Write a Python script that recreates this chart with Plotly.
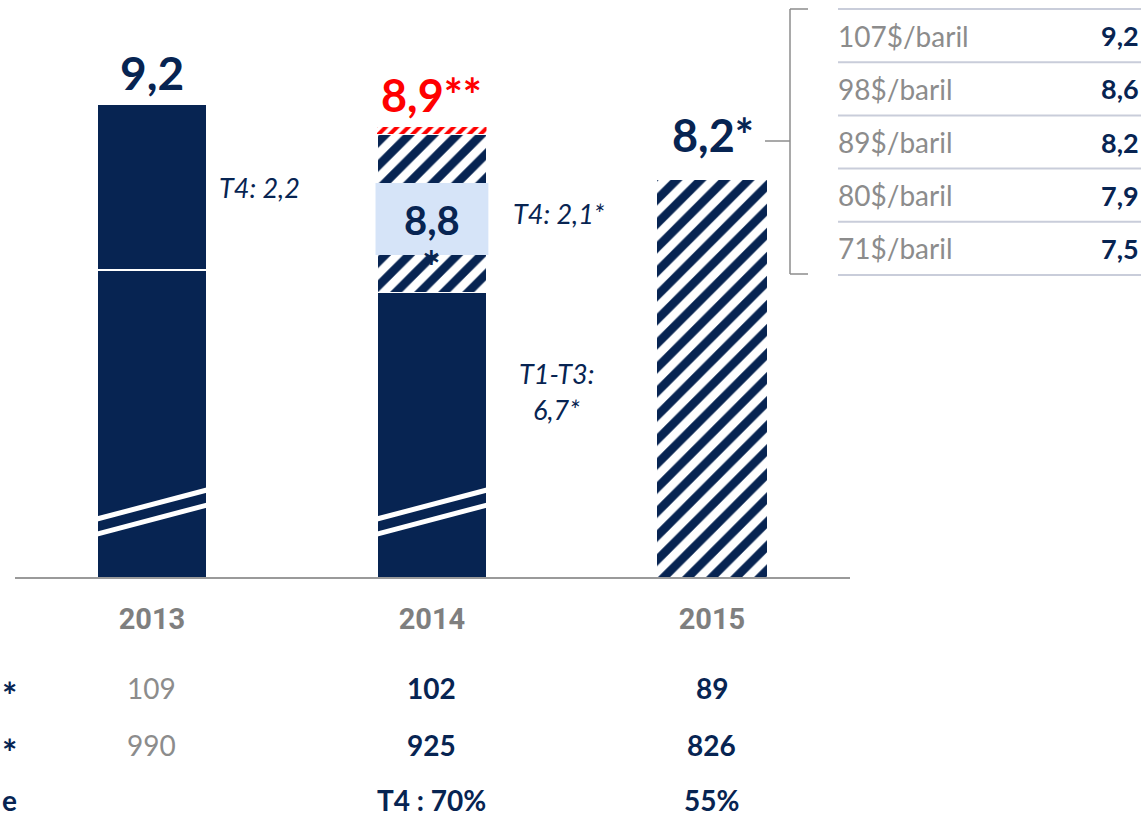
import plotly.graph_objects as go

# ---- données ----
years = ["2013", "2014", "2015"]
t1_t3 = [7.0, 6.7, None]        # T1-T3 réalisé
t4_real = [2.2, None, None]     # T4 2013 réalisé
t4_est = [None, 2.1, None]      # T4 2014 estimé
revision = [None, 0.1, None]    # révision 8,8 -> 8,9
forecast = [None, None, 8.2]    # 2015 estimé

brent = ["109", "102", "89"]
gazole = ["990", "925", "826"]
couverture = ["", "T4 : 70%", "55%"]
row_tails = ["*", "*", "e"]

scen_labels = ["107$/baril", "98$/baril", "89$/baril", "80$/baril", "71$/baril"]
scen_values = [9.2, 8.6, 8.2, 7.9, 7.5]

NAVY = "#072452"
RED = "#FF0000"
GREY = "#8C8C8C"
LIGHT = "#D6E4F8"
FONT = "Lato"


def fr(v):
    return f"{v:.1f}".replace(".", ",")


# ---- géométrie ----
L, R, T, B = 15, 294, 0, 242
W, H = 1144, 819
PW, PH = W - L - R, H - T - B
Y0, PX_PER_UNIT = 2.93, 75.4         # axe coupé : la base démarre à 2,93
Y1 = Y0 + PH / PX_PER_UNIT
BW = 0.393


def px_x(X):
    return (X - L) / PW


def px_y(Y):
    return (H - B - Y) / PH


def val_y(Y):
    return Y0 + (H - B - Y) / PX_PER_UNIT


hatch = dict(shape="/", fgcolor=NAVY, bgcolor="white", size=17,
             solidity=0.5, fgopacity=1)

fig = go.Figure()
solid_line = dict(color="white", width=1.5)
fig.add_bar(x=years, y=t1_t3, width=BW, marker=dict(color=NAVY, line=solid_line))
fig.add_bar(x=years, y=t4_real, width=BW, marker=dict(color=NAVY, line=solid_line))
fig.add_bar(x=years, y=t4_est, width=BW,
            marker=dict(color="white", line=solid_line, pattern=hatch))
fig.add_bar(x=years, y=revision, width=BW,
            marker=dict(color="white", line=dict(color="white", width=0.5),
                        pattern=dict(shape="/", fgcolor=RED, bgcolor="white",
                                     size=8, solidity=0.5, fgopacity=1)))
fig.add_bar(x=years, y=forecast, width=BW,
            marker=dict(color="white", line=dict(color="white", width=0),
                        pattern=hatch))

shapes = []
# marques de coupure de l'axe sur les barres pleines
for i in (0, 1):
    for off in (0.0, -0.2):
        shapes.append(dict(type="line", xref="x", yref="y",
                           x0=i - BW / 2, x1=i + BW / 2,
                           y0=val_y(519) + off, y1=val_y(490) + off,
                           line=dict(color="white", width=5)))

# encadré bleu clair sur le T4 2014
t4_mid = t1_t3[1] + t4_est[1] / 2
shapes.append(dict(type="rect", xref="x", yref="y",
                   x0=1 - BW / 2 - 0.005, x1=1 + BW / 2 + 0.005,
                   y0=val_y(255), y1=val_y(183),
                   fillcolor=LIGHT, line=dict(width=0)))

# accolade vers le tableau de sensibilité
BR = "#8C8C8C"
shapes += [
    dict(type="line", xref="paper", yref="paper", x0=px_x(790), x1=px_x(790),
         y0=px_y(9), y1=px_y(274), line=dict(color=BR, width=1.5)),
    dict(type="line", xref="paper", yref="paper", x0=px_x(790), x1=px_x(808),
         y0=px_y(9), y1=px_y(9), line=dict(color=BR, width=1.5)),
    dict(type="line", xref="paper", yref="paper", x0=px_x(790), x1=px_x(808),
         y0=px_y(274), y1=px_y(274), line=dict(color=BR, width=1.5)),
    dict(type="line", xref="paper", yref="paper", x0=px_x(765), x1=px_x(790),
         y0=px_y(141), y1=px_y(141), line=dict(color=BR, width=1.5)),
]

# tableau de sensibilité
ROW_TOP, ROW_H = 9, 53.2
for k in range(len(scen_labels) + 1):
    yy = px_y(ROW_TOP + k * ROW_H)
    shapes.append(dict(type="line", xref="paper", yref="paper",
                       x0=px_x(838), x1=px_x(1141), y0=yy, y1=yy,
                       line=dict(color="#C9CDDA", width=2)))

ann = []
for k, (lab, val) in enumerate(zip(scen_labels, scen_values)):
    yc = px_y(ROW_TOP + (k + 0.5) * ROW_H)
    ann.append(dict(xref="paper", yref="paper", x=px_x(836), y=yc,
                    xanchor="left", yanchor="middle", text=lab, showarrow=False,
                    font=dict(family=FONT, size=28, color=GREY)))
    ann.append(dict(xref="paper", yref="paper", x=px_x(1141), y=yc,
                    xanchor="right", yanchor="middle", text=fr(val), showarrow=False,
                    font=dict(family=FONT, size=27, color=NAVY, weight="bold")))

# totaux au-dessus des barres
tot13 = t1_t3[0] + t4_real[0]
tot14_est = t1_t3[1] + t4_est[1]
tot14 = tot14_est + revision[1]
tot15 = forecast[2]
ann += [
    dict(x=0, y=tot13, text=fr(tot13), yanchor="bottom", yshift=2, showarrow=False,
         font=dict(family=FONT, size=46, color=NAVY, weight="bold")),
    dict(x=1, y=tot14, text=fr(tot14) + "**", yanchor="bottom", yshift=3, showarrow=False,
         font=dict(family=FONT, size=45, color=RED, weight="bold")),
    dict(x=2, y=tot15, text=fr(tot15) + "*", yanchor="bottom", yshift=16, xshift=1,
         showarrow=False, font=dict(family=FONT, size=45, color=NAVY, weight="bold")),
    dict(x=1, y=val_y(220), text=fr(tot14_est), yanchor="middle", showarrow=False,
         font=dict(family=FONT, size=40, color=NAVY, weight="bold")),
    dict(x=1, y=val_y(266), text="*", yanchor="middle", showarrow=False,
         font=dict(family=FONT, size=44, color=NAVY, weight="bold")),
]

# libellés trimestriels
ital = dict(family=FONT, size=27, color=NAVY, style="italic")
ann += [
    dict(x=0 + BW / 2, y=t1_t3[0] + t4_real[0] / 2, xanchor="left", xshift=10,
         text="T4: " + fr(t4_real[0]), showarrow=False, font=ital),
    dict(x=1 + BW / 2, y=t4_mid, xanchor="left", xshift=24,
         text="T4: " + fr(t4_est[1]) + "*", showarrow=False, font=ital),
    dict(x=1.446, y=val_y(373), text="T1-T3:", showarrow=False, font=ital),
    dict(x=1.446, y=val_y(409), text=fr(t1_t3[1]) + "*", showarrow=False, font=ital),
]

# lignes d'hypothèses sous l'axe
rows_y = [688, 745, 800]
for r, (vals, tail) in enumerate(zip([brent, gazole, couverture], row_tails)):
    yy = px_y(rows_y[r])
    is_star = tail == "*"
    ann.append(dict(xref="paper", yref="paper", x=px_x(0), y=yy, xanchor="left",
                    yanchor="middle", text=tail, showarrow=False,
                    yshift=-7 if is_star else 0,
                    font=dict(family=FONT, size=36 if is_star else 28,
                              color=NAVY, weight="bold")))
    for i, v in enumerate(vals):
        if not v:
            continue
        past = (i == 0)
        ann.append(dict(x=i, xref="x", yref="paper", y=yy, yanchor="middle",
                        text=v, showarrow=False,
                        font=dict(family=FONT, size=28,
                                  color=GREY if past else NAVY,
                                  weight="normal" if past else "bold")))

fig.update_layout(
    width=W, height=H, barmode="stack", showlegend=False,
    margin=dict(l=L, r=R, t=T, b=B),
    plot_bgcolor="white", paper_bgcolor="white",
    shapes=shapes, annotations=ann,
    xaxis=dict(type="category", categoryorder="array", categoryarray=years,
               range=[-0.489, 2.493], showgrid=False, zeroline=False,
               showline=True, linecolor="#9A9A9A", linewidth=2, ticks="",
               ticklabelstandoff=15,
               tickfont=dict(family="Roboto", size=29, color="#7F7F7F", weight="bold")),
    yaxis=dict(range=[Y0, Y1], visible=False, showgrid=False, zeroline=False),
)

fig.write_html("out.html")
